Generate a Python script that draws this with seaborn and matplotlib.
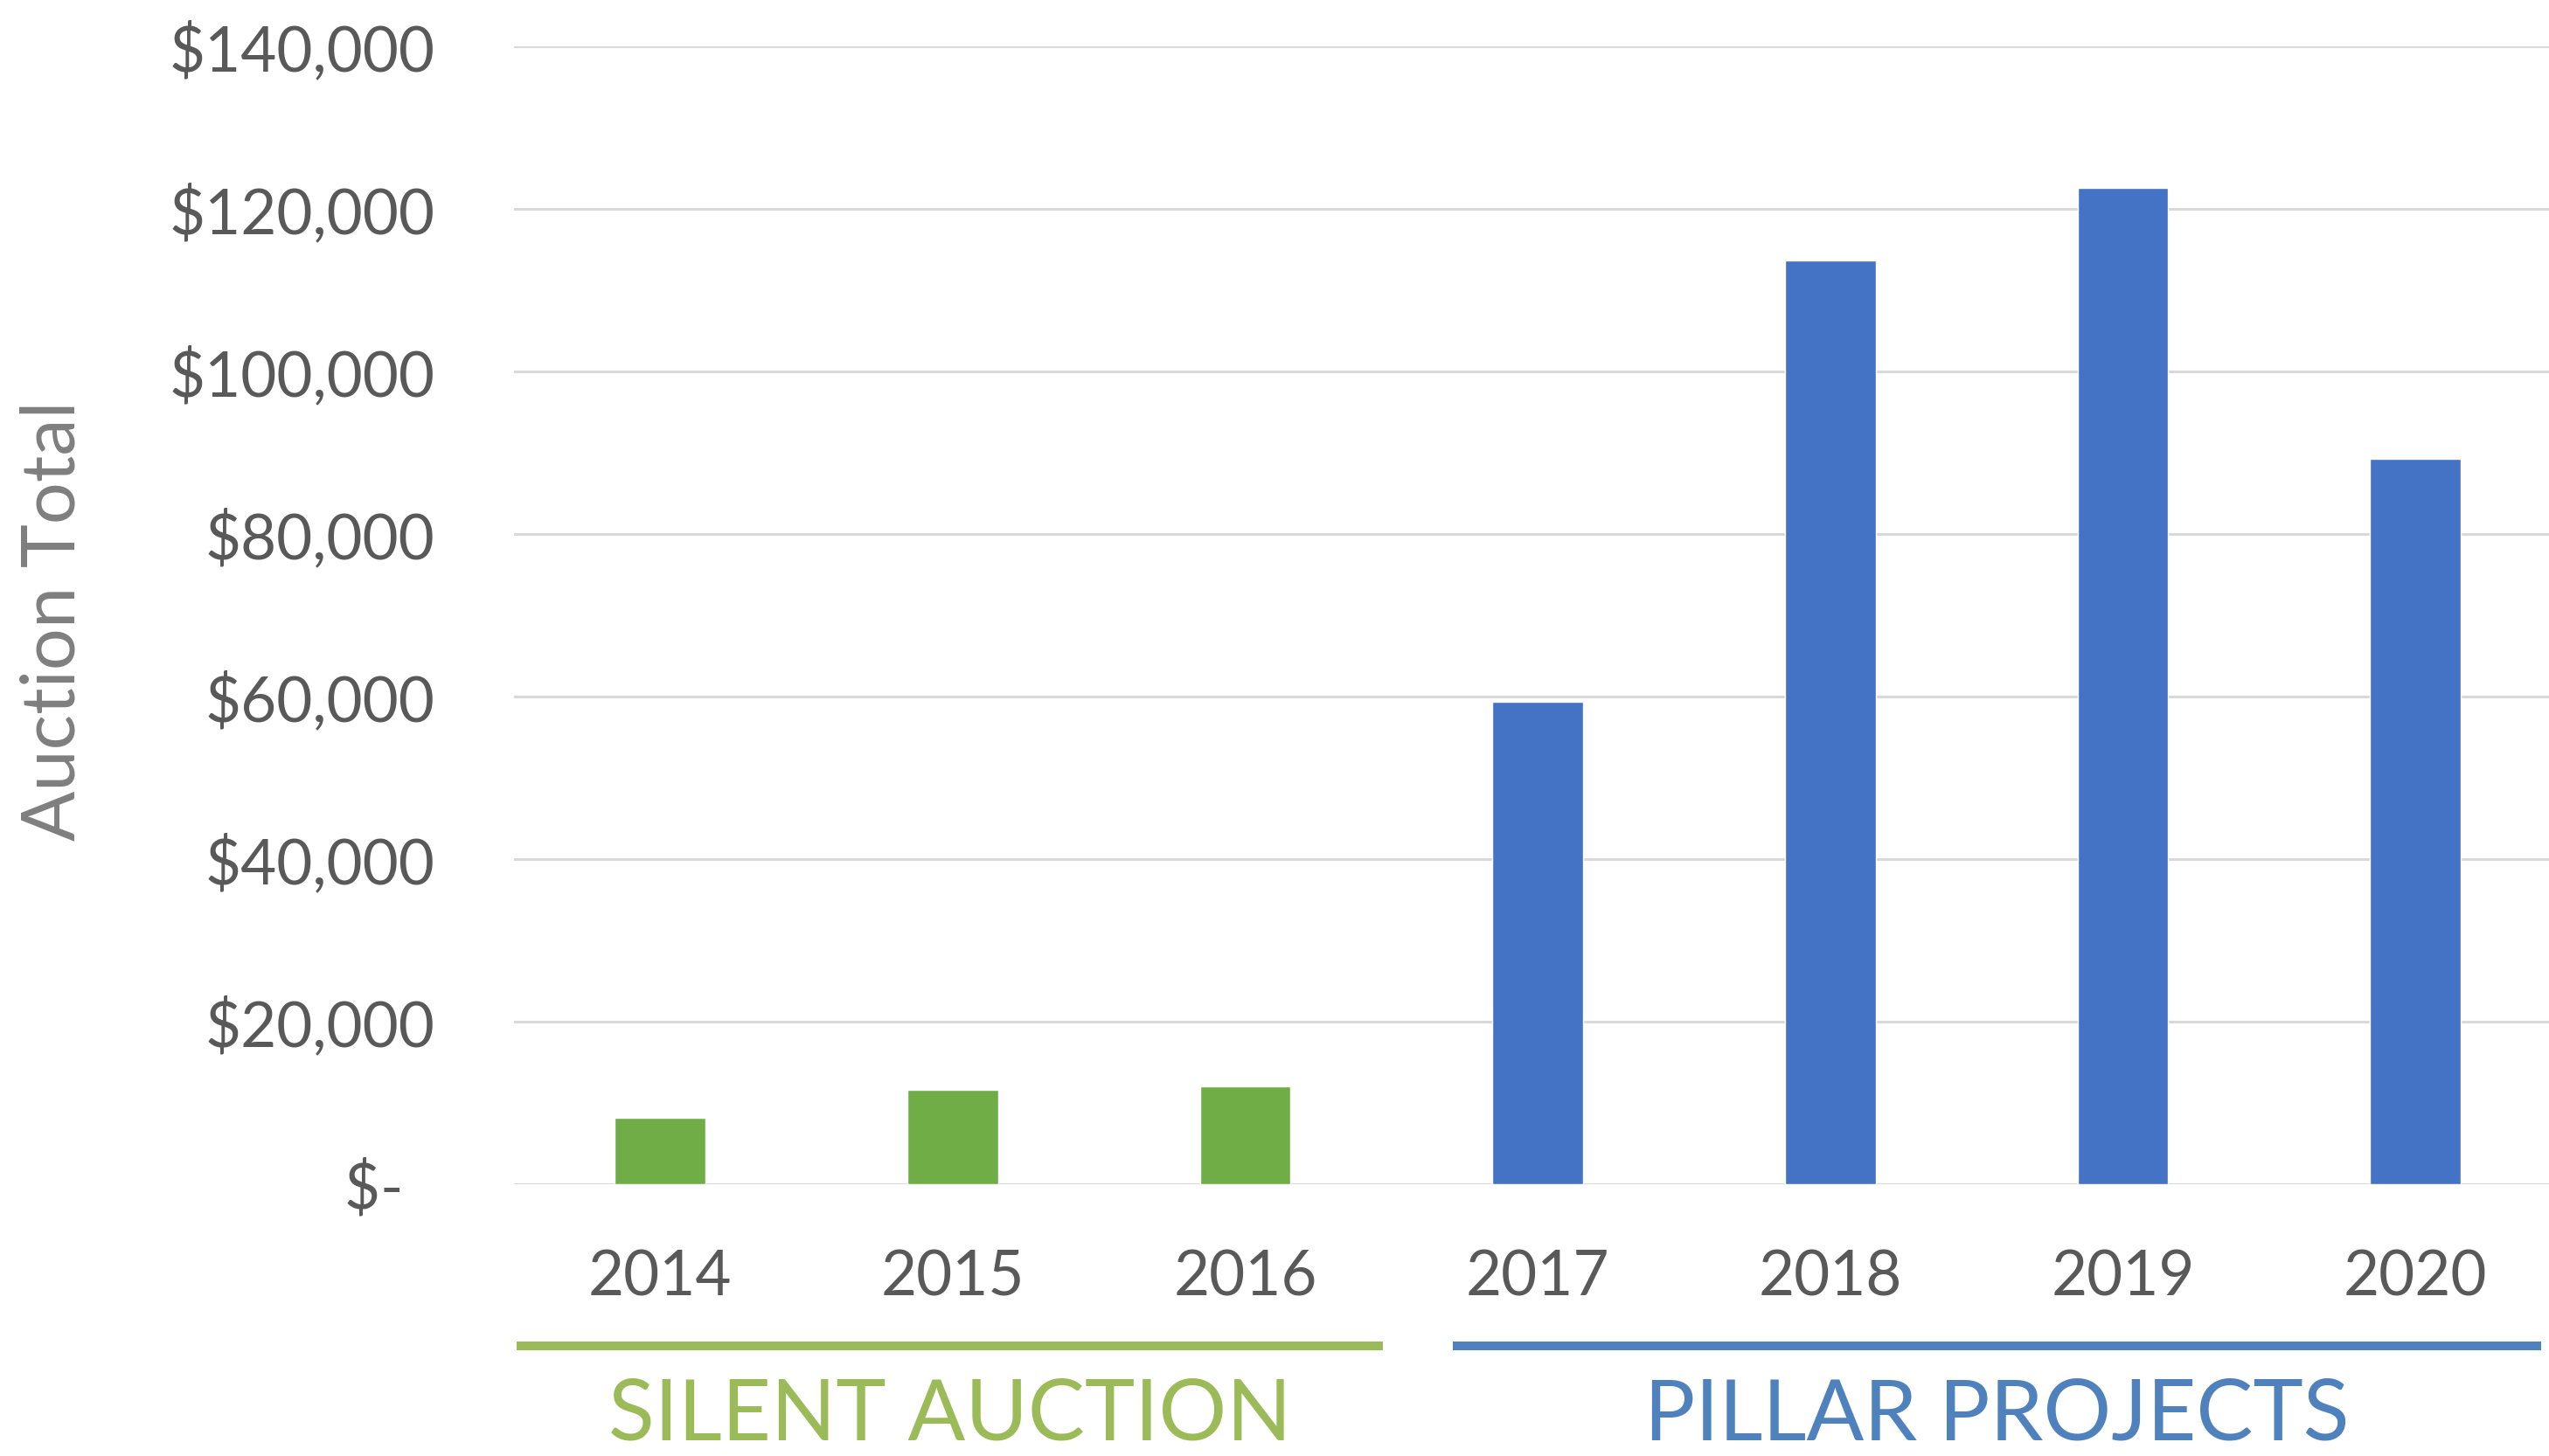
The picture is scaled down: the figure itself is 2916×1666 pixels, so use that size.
import matplotlib
matplotlib.use("Agg")
import matplotlib.pyplot as plt
from matplotlib.lines import Line2D
from matplotlib.transforms import blended_transform_factory
import seaborn as sns
import pandas as pd

# ---- data ----
years = ["2014", "2015", "2016", "2017", "2018", "2019", "2020"]
totals = [8200, 11600, 12000, 59400, 113600, 122600, 89200]
groups = ["SILENT AUCTION"] * 3 + ["PILLAR PROJECTS"] * 4
group_names = ["SILENT AUCTION", "PILLAR PROJECTS"]
y_ticks = [0, 20000, 40000, 60000, 80000, 100000, 120000, 140000]
y_tick_labels = ["$-  ", "$20,000", "$40,000", "$60,000", "$80,000",
                 "$100,000", "$120,000", "$140,000"]
y_title = "Auction Total"

# ---- style ----
bar_colors = {"SILENT AUCTION": "#70AD47", "PILLAR PROJECTS": "#4472C4"}
label_colors = {"SILENT AUCTION": "#9BBB59", "PILLAR PROJECTS": "#4F81BD"}
bracket_pad = {"SILENT AUCTION": (0.49, 0.47), "PILLAR PROJECTS": (0.29, 0.43)}

sns.set_theme(style="white")
plt.rcParams["font.family"] = ["Lato", "DejaVu Sans"]

fig = plt.figure(figsize=(29.16, 16.66), dpi=100)
fig.patch.set_facecolor("white")
ax = fig.add_axes([0.2016, 0.1867, 0.8034, 0.7815])

df = pd.DataFrame({"year": years, "total": totals, "group": groups})
sns.barplot(data=df, x="year", y="total", hue="group", palette=bar_colors,
            dodge=False, width=0.31, saturation=1, legend=False, ax=ax)

ax.set_xlim(-0.5, len(years) - 0.5)
ax.set_ylim(0, 140000)
ax.set_yticks(y_ticks)
ax.set_yticklabels(y_tick_labels)
ax.set_xlabel("")
ax.grid(axis="y", color="#D9D9D9", linewidth=2.2)
ax.grid(axis="x", visible=False)
ax.set_axisbelow(True)
for s in ax.spines.values():
    s.set_visible(False)
ax.tick_params(axis="both", length=0, labelsize=51, labelcolor="#595959")
ax.tick_params(axis="y", pad=65)
ax.tick_params(axis="x", pad=54)

ax.set_ylabel(y_title, fontsize=61, color="#7F7F7F")
ax.yaxis.label.set_va("center")
ax.yaxis.set_label_coords(-0.2245, 0.495)

# group brackets and labels below the axis
trans = blended_transform_factory(ax.transData, fig.transFigure)
for g in group_names:
    idx = [i for i, gg in enumerate(groups) if gg == g]
    pl, pr = bracket_pad[g]
    x0, x1 = min(idx) - pl, max(idx) + pr
    fig.add_artist(Line2D([x0, x1], [0.0756, 0.0756], transform=trans,
                          color=label_colors[g], linewidth=7.2,
                          solid_capstyle="butt"))
    fig.text((x0 + x1) / 2, 0.001, g, transform=trans, ha="center",
             va="bottom", fontsize=70, color=label_colors[g])

fig.savefig("out.png", dpi=100, facecolor="white")
